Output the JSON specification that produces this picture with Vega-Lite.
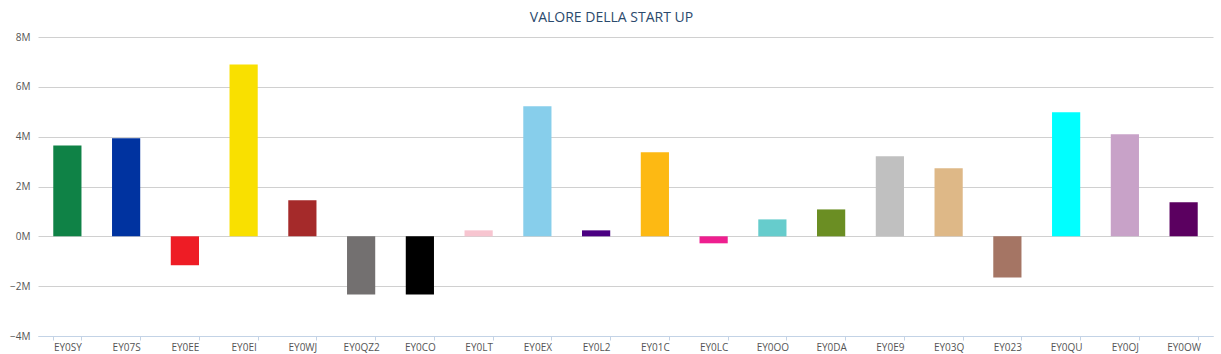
{
  "$schema": "https://vega.github.io/schema/vega-lite/v6.json",
  "width": 1175,
  "height": 299,
  "autosize": {"type": "none"},
  "padding": {"left": 38, "top": 37, "right": 8, "bottom": 18},
  "background": "white",
  "title": {
    "text": "VALORE DELLA START UP",
    "font": "Open Sans",
    "fontSize": 14,
    "fontWeight": "normal",
    "color": "#2b4a6d",
    "anchor": "middle",
    "offset": 7,
    "dx": -14
  },
  "data": {
    "values": [
      {"id": "EY0SY", "valore": 3650000, "colore": "#0f8246"},
      {"id": "EY07S", "valore": 3940000, "colore": "#0033a0"},
      {"id": "EY0EE", "valore": -1160000, "colore": "#ee1c25"},
      {"id": "EY0EI", "valore": 6900000, "colore": "#f9e000"},
      {"id": "EY0WJ", "valore": 1450000, "colore": "#a52a2a"},
      {"id": "EY0QZ2", "valore": -2330000, "colore": "#737070"},
      {"id": "EY0CO", "valore": -2330000, "colore": "#000000"},
      {"id": "EY0LT", "valore": 240000, "colore": "#f7c5d0"},
      {"id": "EY0EX", "valore": 5220000, "colore": "#87ceeb"},
      {"id": "EY0L2", "valore": 240000, "colore": "#4b0082"},
      {"id": "EY01C", "valore": 3370000, "colore": "#fdb913"},
      {"id": "EY0LC", "valore": -280000, "colore": "#ee1f8f"},
      {"id": "EY0OO", "valore": 680000, "colore": "#66cccc"},
      {"id": "EY0DA", "valore": 1080000, "colore": "#6b8e23"},
      {"id": "EY0E9", "valore": 3210000, "colore": "#c0c0c0"},
      {"id": "EY03Q", "valore": 2730000, "colore": "#deb887"},
      {"id": "EY023", "valore": -1650000, "colore": "#a57564"},
      {"id": "EY0QU", "valore": 4980000, "colore": "#00ffff"},
      {"id": "EY0OJ", "valore": 4100000, "colore": "#c8a2c8"},
      {"id": "EY0OW", "valore": 1370000, "colore": "#5b0060"}
    ]
  },
  "mark": {"type": "bar"},
  "encoding": {
    "x": {
      "field": "id",
      "type": "nominal",
      "sort": null,
      "scale": {"paddingInner": 0.52, "paddingOuter": 0.26},
      "axis": {
        "title": null,
        "labelAngle": 0,
        "labelFont": "Open Sans",
        "labelFontSize": 10,
        "labelColor": "#555555",
        "labelPadding": 2,
        "domainColor": "#c3d3e6",
        "tickColor": "#c3d3e6",
        "tickSize": 4,
        "tickBand": "extent",
        "grid": false,
        "offset": 0
      }
    },
    "y": {
      "field": "valore",
      "type": "quantitative",
      "scale": {"domain": [-4000000, 8000000], "nice": false},
      "axis": {
        "title": null,
        "values": [-4000000, -2000000, 0, 2000000, 4000000, 6000000, 8000000],
        "labelExpr": "format(datum.value / 1000000, 'd') + 'M'",
        "labelFont": "Open Sans",
        "labelFontSize": 10,
        "labelColor": "#555555",
        "labelPadding": 8,
        "domain": false,
        "ticks": false,
        "grid": true,
        "gridColor": "#d0d0d0",
        "gridWidth": 1
      }
    },
    "color": {"field": "colore", "type": "nominal", "scale": null, "legend": null}
  },
  "config": {"view": {"stroke": null}}
}
